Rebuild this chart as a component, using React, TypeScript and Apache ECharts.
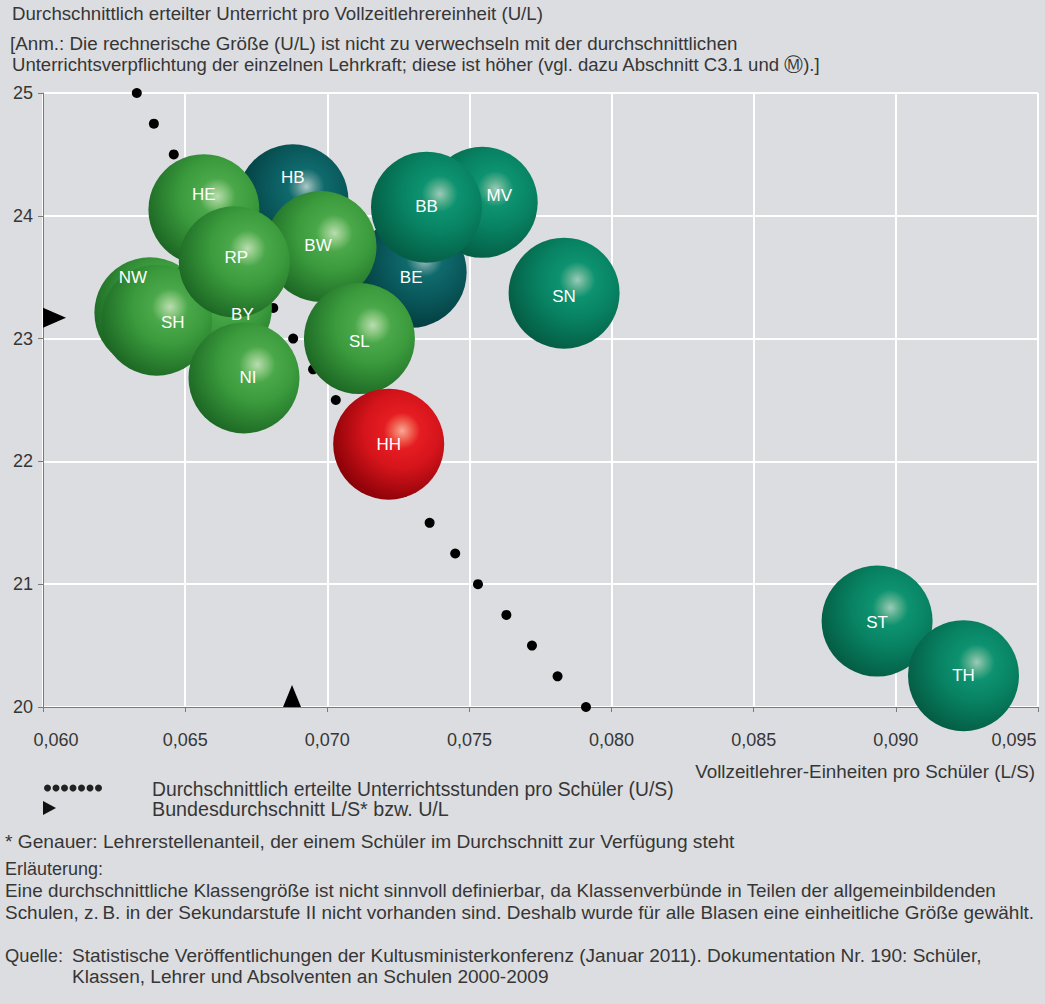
import React, { useEffect, useRef } from 'react';
import * as echarts from 'echarts';

// ---------- data ----------
const NAMES = ['HB', 'BE', 'MV', 'BB', 'HE', 'NW', 'BY', 'SH', 'BW', 'RP', 'NI', 'SL', 'HH', 'SN', 'ST', 'TH'];
const LS = [0.06879, 0.07295, 0.07545, 0.07349, 0.06566, 0.06376, 0.0661, 0.064, 0.06978, 0.06673, 0.06707, 0.07113, 0.07216, 0.07833, 0.08934, 0.09238];
const UL = [24.13, 23.54, 24.11, 24.07, 24.05, 23.21, 23.25, 23.15, 23.75, 23.625, 22.68, 23.0, 22.14, 23.37, 20.7, 20.255];
const GROUP = ['dark', 'dark', 'teal', 'teal', 'green', 'green', 'green', 'green', 'green', 'green', 'green', 'green', 'red', 'teal', 'teal', 'teal'];

const US_Y = [25, 24.75, 24.5, 24.25, 24, 23.75, 23.5, 23.25, 23, 22.75, 22.5, 22.25, 22, 21.75, 21.5, 21.25, 21, 20.75, 20.5, 20.25, 20];
const US_X = [0.0633, 0.0639, 0.0646, 0.0652, 0.0659, 0.0666, 0.0673, 0.0681, 0.0688, 0.0695, 0.0703, 0.0711, 0.0719, 0.0727, 0.0736, 0.0745, 0.0753, 0.0763, 0.0772, 0.0781, 0.0791];

const AVG_LS = 0.06876;
const AVG_UL = 23.17;

const X_MIN = 0.06, X_MAX = 0.095, X_STEP = 0.005;
const Y_MIN = 20, Y_MAX = 25, Y_STEP = 1;

// ---------- styles ----------
const FONT = "'Liberation Sans', Arial, sans-serif";
const TXT = '#363636';
const BG = '#dcdde0';

const LABEL_OFFSET: Record<string, number[]> = {
  HE: [0, -15], HB: [0, -22], RP: [2, -4], BW: [-3, -1], NW: [-17, -35], SH: [16, 2], BY: [26, 7],
  NI: [4, 0], SL: [0, 3], HH: [0, 0], BE: [0, 5], BB: [0, -1], MV: [17, -7], SN: [0, 3], ST: [0, 1], TH: [0, 0],
};

const PALETTE: Record<string, string[]> = {
  // highlight, soft highlight, light, base, dark
  green: ['#b9ddb0', '#7fc277', '#4aa84a', '#3a9a3c', '#1b6523'],
  dark: ['#a9c9c6', '#4f8f8f', '#0f6a6c', '#0a5a5d', '#02383a'],
  teal: ['#9acbb9', '#4caa89', '#0d9270', '#088363', '#045a42'],
  red: ['#f8a894', '#ef5a4c', '#e51d22', '#d5141b', '#850006'],
};

function sphere(group: string) {
  const p = PALETTE[group];
  return new echarts.graphic.RadialGradient(0.62, 0.38, 0.68, [
    { offset: 0, color: p[0] },
    { offset: 0.13, color: p[1] },
    { offset: 0.24, color: p[2] },
    { offset: 0.5, color: p[3] },
    { offset: 1, color: p[4] },
  ]);
}

function fit(text: string, width: number): number {
  const ctx = document.createElement('canvas').getContext('2d')!;
  ctx.font = `100px ${FONT}`;
  const w = ctx.measureText(text).width;
  return (100 * width) / w;
}

function txt(text: string, x: number, y: number, width: number, align = 'left') {
  const size = fit(text, width);
  return {
    type: 'text',
    x,
    y,
    silent: true,
    style: {
      text,
      fontSize: size,
      fontFamily: FONT,
      fill: TXT,
      align,
      textAlign: align,
      verticalAlign: 'middle',
      textVerticalAlign: 'middle',
    },
  };
}

export default function App() {
  const ref = useRef<HTMLDivElement>(null);

  useEffect(() => {
    document.body.style.margin = '0';
    document.body.style.background = BG;
    const chart = echarts.init(ref.current!, null, { renderer: 'svg' });

    const fmt = (v: number) => v.toFixed(3).replace('.', ',');

    const bubbles = NAMES.map((n, i) => ({
      name: n,
      value: [LS[i], UL[i]],
      itemStyle: { color: sphere(GROUP[i]), opacity: 1 },
      label: { offset: LABEL_OFFSET[n] },
    }));

    const legendDots = Array.from({ length: 7 }, (_, i) => ({
      type: 'circle',
      silent: true,
      shape: { cx: 47.5 + 8.5 * i, cy: 788, r: 3.5 },
      style: { fill: '#222' },
    }));

    const option: any = {
      animation: false,
      backgroundColor: BG,
      textStyle: { fontFamily: FONT },
      grid: { left: 43, right: 7, top: 93, bottom: 297, containLabel: false },
      xAxis: {
        type: 'value',
        min: X_MIN,
        max: X_MAX,
        interval: X_STEP,
        axisLine: { show: true, onZero: false, lineStyle: { color: '#7a7a7a', width: 1 } },
        axisTick: { show: true, length: 5, lineStyle: { color: '#7a7a7a' } },
        splitLine: { show: true, lineStyle: { color: '#ffffff', width: 2 } },
        axisLabel: {
          margin: 24,
          fontSize: 18,
          color: TXT,
          fontFamily: FONT,
          formatter: (v: number) => {
            const s = fmt(v);
            if (Math.abs(v - X_MIN) < 1e-9) return '{l|' + s + '}';
            if (Math.abs(v - X_MAX) < 1e-9) return '{r|' + s + '}';
            return s;
          },
          rich: {
            l: { padding: [0, 0, 0, 26], fontSize: 18, color: TXT, fontFamily: FONT },
            r: { padding: [0, 48, 0, 0], fontSize: 18, color: TXT, fontFamily: FONT },
          },
        },
      },
      yAxis: {
        type: 'value',
        min: Y_MIN,
        max: Y_MAX,
        interval: Y_STEP,
        axisLine: { show: true, onZero: false, lineStyle: { color: '#7a7a7a', width: 1 } },
        axisTick: { show: true, length: 5, lineStyle: { color: '#7a7a7a' } },
        splitLine: { show: true, lineStyle: { color: '#ffffff', width: 2 } },
        axisLabel: { margin: 10, fontSize: 18, color: TXT, fontFamily: FONT },
      },
      series: [
        {
          type: 'scatter',
          z: 2,
          symbol: 'circle',
          symbolSize: 10,
          itemStyle: { color: '#000', opacity: 1 },
          emphasis: { disabled: true },
          data: US_X.map((x, i) => [x, US_Y[i]]),
        },
        {
          type: 'scatter',
          z: 3,
          symbol: 'circle',
          symbolSize: 111,
          itemStyle: { opacity: 1 },
          emphasis: { disabled: true },
          label: {
            show: true,
            position: 'inside',
            formatter: '{b}',
            color: '#ffffff',
            fontSize: 17,
            fontFamily: FONT,
          },
          data: bubbles,
        },
        {
          type: 'scatter',
          z: 5,
          emphasis: { disabled: true },
          itemStyle: { color: '#000', opacity: 1 },
          data: [
            {
              value: [X_MIN, AVG_UL],
              symbol: 'path://M0 0L23 10L0 20Z',
              symbolSize: [23, 20],
              symbolOffset: [11.5, 0],
            },
            {
              value: [AVG_LS, Y_MIN],
              symbol: 'triangle',
              symbolSize: [18, 22],
              symbolOffset: [0, -11],
            },
          ],
        },
      ],
      graphic: [
        txt('Durchschnittlich erteilter Unterricht pro Vollzeitlehrereinheit (U/L)', 12, 13, 531),
        txt('[Anm.: Die rechnerische Größe (U/L) ist nicht zu verwechseln mit der durchschnittlichen', 10, 43, 728),
        txt('Unterrichtsverpflichtung der einzelnen Lehrkraft; diese ist höher (vgl. dazu Abschnitt C3.1 und Ⓜ).]', 12, 64, 809),
        txt('Vollzeitlehrer-Einheiten pro Schüler (L/S)', 1035, 771, 340, 'right'),
        ...legendDots,
        {
          type: 'polygon',
          silent: true,
          shape: { points: [[43, 801], [56, 808], [43, 815]] },
          style: { fill: '#111' },
        },
        txt('Durchschnittlich erteilte Unterrichtsstunden pro Schüler (U/S)', 152, 789, 522),
        txt('Bundesdurchschnitt L/S* bzw. U/L', 152, 809, 297),
        txt('* Genauer: Lehrerstellenanteil, der einem Schüler im Durchschnitt zur Verfügung steht', 5, 841, 730),
        txt('Erläuterung:', 5, 869, 98),
        txt('Eine durchschnittliche Klassengröße ist nicht sinnvoll definierbar, da Klassenverbünde in Teilen der allgemeinbildenden', 5, 890, 992),
        txt('Schulen, z.\u2009B. in der Sekundarstufe II nicht vorhanden sind. Deshalb wurde für alle Blasen eine einheitliche Größe gewählt.', 5, 912, 1030),
        txt('Quelle:', 5, 955, 58),
        txt('Statistische Veröffentlichungen der Kultusministerkonferenz (Januar 2011). Dokumentation Nr. 190: Schüler,', 72, 955, 910),
        txt('Klassen, Lehrer und Absolventen an Schulen 2000-2009', 72, 976, 478),
      ],
    };

    chart.setOption(option);
    return () => chart.dispose();
  }, []);

  return <div ref={ref} style={{ width: 1045, height: 1004 }} />;
}
